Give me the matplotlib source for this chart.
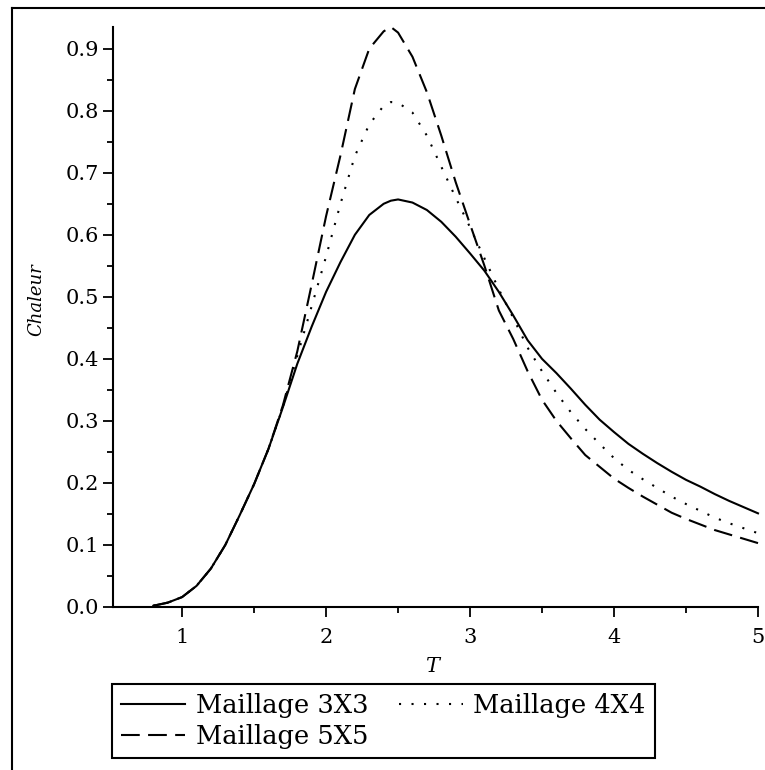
import matplotlib
matplotlib.use("Agg")
import matplotlib.pyplot as plt
from matplotlib.lines import Line2D
from matplotlib.ticker import MultipleLocator, FormatStrFormatter

# Donnees (T, chaleur specifique)
T = [0.8, 0.9, 1.0, 1.1, 1.2, 1.3, 1.4, 1.5, 1.6, 1.7,
     1.8, 1.9, 2.0, 2.1, 2.2, 2.3, 2.4, 2.45, 2.5, 2.6, 2.7,
     2.8, 2.9, 3.0, 3.1, 3.2, 3.3, 3.4, 3.5, 3.6, 3.7,
     3.8, 3.9, 4.0, 4.1, 4.2, 4.3, 4.4, 4.5, 4.6, 4.7,
     4.8, 4.9, 5.0]
chaleur_3x3 = [0.002, 0.007, 0.016, 0.034, 0.062, 0.100, 0.148, 0.198, 0.255, 0.322,
               0.392, 0.452, 0.508, 0.556, 0.600, 0.632, 0.650, 0.655, 0.657, 0.652, 0.640,
               0.621, 0.597, 0.570, 0.542, 0.508, 0.470, 0.430, 0.400, 0.377, 0.352,
               0.326, 0.302, 0.282, 0.263, 0.247, 0.232, 0.218, 0.205, 0.194, 0.182,
               0.171, 0.161, 0.151]
chaleur_4x4 = [0.002, 0.007, 0.016, 0.034, 0.062, 0.100, 0.148, 0.198, 0.255, 0.322,
               0.405, 0.485, 0.565, 0.650, 0.727, 0.778, 0.808, 0.814, 0.813, 0.797, 0.760,
               0.710, 0.660, 0.612, 0.562, 0.512, 0.466, 0.418, 0.380, 0.345, 0.314,
               0.287, 0.263, 0.240, 0.221, 0.206, 0.192, 0.178, 0.166, 0.155, 0.144,
               0.135, 0.127, 0.119]
chaleur_5x5 = [0.002, 0.007, 0.016, 0.034, 0.062, 0.100, 0.148, 0.198, 0.255, 0.325,
               0.412, 0.520, 0.630, 0.728, 0.835, 0.900, 0.928, 0.935, 0.926, 0.887, 0.830,
               0.760, 0.685, 0.617, 0.550, 0.478, 0.432, 0.380, 0.334, 0.300, 0.272,
               0.245, 0.226, 0.207, 0.192, 0.178, 0.165, 0.152, 0.142, 0.133, 0.124,
               0.117, 0.110, 0.103]
labels = ["Maillage 3X3", "Maillage 4X4", "Maillage 5X5"]

plt.rcParams['font.family'] = ['DejaVu Serif']

W, H = 765.0, 770.0
fig = plt.figure(figsize=(7.65, 7.7), dpi=100, facecolor='w')
ax = fig.add_axes([113/W, 1-607/H, (758-113)/W, (607-27)/H])

l3, = ax.plot(T, chaleur_3x3, color='k', lw=1.5, ls='-', clip_on=False)
l4, = ax.plot(T, chaleur_4x4, color='k', lw=1.5, ls=(0, (1, 5)), clip_on=False)
l5, = ax.plot(T, chaleur_5x5, color='k', lw=1.5, ls=(0, (9, 4)), clip_on=False)

# Axes style Maple
ax.set_xlim(0.52, 5.0)
ax.set_ylim(0, 0.935)
for s in ['top', 'right']: ax.spines[s].set_visible(False)
for s in ['left', 'bottom']: ax.spines[s].set_linewidth(1.5)
ax.xaxis.set_major_locator(MultipleLocator(1))
ax.xaxis.set_minor_locator(MultipleLocator(0.5))
ax.yaxis.set_major_locator(MultipleLocator(0.1))
ax.yaxis.set_minor_locator(MultipleLocator(0.05))
ax.yaxis.set_major_formatter(FormatStrFormatter('%.1f'))
ax.tick_params(which='major', length=7, width=1.3, labelsize=15, direction='out')
ax.tick_params(which='minor', length=4.5, width=1.3, direction='out')
ax.tick_params(axis='x', which='major', pad=8)
ax.tick_params(axis='y', which='major', pad=3)

ax.set_xlabel('T', fontstyle='italic', fontsize=15, va='center')
ax.xaxis.set_label_coords((432-113)/645.0, (607-667)/580.0)
ax.set_ylabel('Chaleur', fontstyle='italic', fontsize=13, va='center', ha='center')
ax.yaxis.set_label_coords((36-113)/645.0, (607-300)/580.0)

# Legende
leg = fig.legend([l3, l5, l4], [labels[0], labels[2], labels[1]], ncol=2,
                 loc='upper left', bbox_to_anchor=(112/W, 1-684/H), borderaxespad=0,
                 fontsize=18.5, fancybox=False, framealpha=1, edgecolor='k',
                 handlelength=2.5, handletextpad=0.4, columnspacing=1.2,
                 labelspacing=0.22, borderpad=0.35)
leg.get_frame().set_linewidth(1.5)

# Cadre du scan
fig.add_artist(Line2D([12/W, 1], [1-8/H, 1-8/H], transform=fig.transFigure, color='k', lw=1.5))
fig.add_artist(Line2D([12/W, 12/W], [0, 1-8/H], transform=fig.transFigure, color='k', lw=1.5))

fig.savefig('out.png', dpi=100)
